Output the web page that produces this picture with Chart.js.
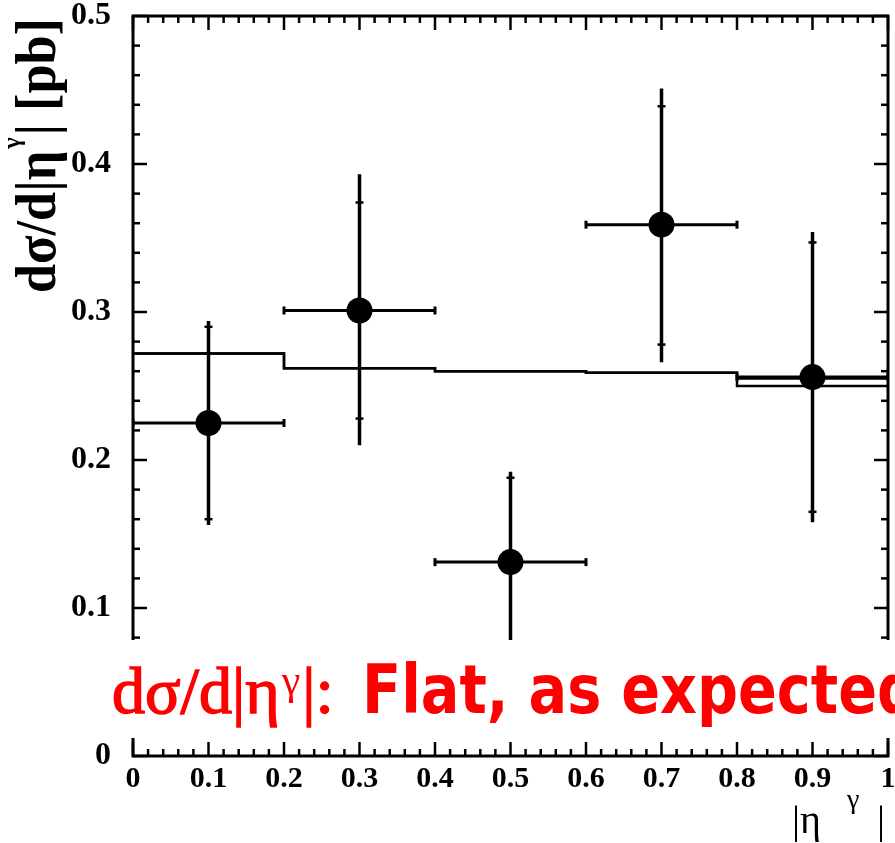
<!DOCTYPE html>
<html>
<head>
<meta charset="utf-8">
<script src="https://cdn.jsdelivr.net/npm/chart.js@4.4.0/dist/chart.umd.min.js"></script>
<style>
  html, body { margin: 0; padding: 0; background: #fff; }
  #wrap { width: 895px; height: 843px; }
</style>
</head>
<body>
<div id="wrap"><canvas id="myChart" width="895" height="843"></canvas></div>
<script>
// |eta^gamma| bins
const etaLow = [0.0, 0.2, 0.4, 0.6, 0.8];
const etaHigh = [0.2, 0.4, 0.6, 0.8, 1.0];
const etaCenter = [0.1, 0.3, 0.5, 0.7, 0.9];

// measured cross section [pb] with stat (inner caps) and total errors
const xsec = [0.225, 0.301, 0.131, 0.359, 0.256];
const statLow = [0.160, 0.228, 0.072, 0.278, 0.165];
const statHigh = [0.290, 0.374, 0.188, 0.439, 0.347];
const totLow = [0.156, 0.210, 0.066, 0.266, 0.158];
const totHigh = [0.294, 0.393, 0.192, 0.451, 0.354];

// theory histograms
const theoryA = [0.272, 0.262, 0.260, 0.259, 0.255];
const theoryB = [0.272, 0.262, 0.260, 0.259, 0.250];

const serif = '"Liberation Serif", "Times New Roman", serif';

// points at the bin edges; with stepped 'after' each value covers the bin ending at its point
function histPoints(vals) {
  let pts = [{x: etaLow[0], y: vals[0]}];
  for (let i = 0; i < vals.length; i++) pts.push({x: etaHigh[i], y: vals[i]});
  return pts;
}

function seg(ctx, x1, y1, x2, y2) {
  ctx.beginPath();
  ctx.moveTo(x1, y1);
  ctx.lineTo(x2, y2);
  ctx.stroke();
}

// error bars drawn under the markers
const errorBars = {
  id: 'errorBars',
  beforeDatasetsDraw(chart) {
    const ctx = chart.ctx;
    const xs = chart.scales.x, ys = chart.scales.y;
    const a = chart.chartArea;
    ctx.save();
    ctx.beginPath();
    ctx.rect(a.left, a.top, a.right - a.left, a.bottom - a.top);
    ctx.clip();
    ctx.strokeStyle = '#000';
    for (let i = 0; i < xsec.length; i++) {
      const px = xs.getPixelForValue(etaCenter[i]);
      const py = ys.getPixelForValue(xsec[i]);
      const x1 = xs.getPixelForValue(etaLow[i]);
      const x2 = xs.getPixelForValue(etaHigh[i]);
      ctx.lineWidth = 3.5;
      seg(ctx, px, ys.getPixelForValue(totLow[i]), px, ys.getPixelForValue(totHigh[i]));
      ctx.lineWidth = 3;
      seg(ctx, x1, py, x2, py);
      seg(ctx, x1, py - 4, x1, py + 4);
      seg(ctx, x2, py - 4, x2, py + 4);
      ctx.lineWidth = 2.5;
      const s1 = ys.getPixelForValue(statLow[i]);
      const s2 = ys.getPixelForValue(statHigh[i]);
      seg(ctx, px - 4, s1, px + 4, s1);
      seg(ctx, px - 4, s2, px + 4, s2);
    }
    ctx.restore();
  }
};

// frame with inward ticks, the overlay box and the titles
const decorations = {
  id: 'decorations',
  afterDraw(chart) {
    const ctx = chart.ctx;
    const a = chart.chartArea;
    const xs = chart.scales.x, ys = chart.scales.y;
    ctx.save();
    ctx.strokeStyle = '#000';
    ctx.lineWidth = 3;
    ctx.strokeRect(a.left, a.top, a.right - a.left, a.bottom - a.top);
    ctx.lineWidth = 2.5;
    for (let i = 0; i <= 50; i++) {
      const px = xs.getPixelForValue(i * 0.02);
      const len = i % 5 === 0 ? 14 : 7;
      seg(ctx, px, a.bottom, px, a.bottom - len);
      seg(ctx, px, a.top, px, a.top + len);
    }
    for (let i = 0; i <= 25; i++) {
      const py = ys.getPixelForValue(i * 0.02);
      const len = i % 5 === 0 ? 14 : 7;
      seg(ctx, a.left, py, a.left + len, py);
      seg(ctx, a.right, py, a.right - len, py);
    }

    // white overlay box with the red caption
    ctx.fillStyle = '#fff';
    ctx.fillRect(0, 640, chart.width, 98);

    ctx.fillStyle = '#ff0000';
    ctx.strokeStyle = '#ff0000';
    ctx.lineWidth = 1.5;
    ctx.textBaseline = 'alphabetic';
    ctx.textAlign = 'left';
    let x = 112;
    ctx.font = '66px ' + serif;
    ctx.fillText('dσ/d|η', x, 713);
    ctx.strokeText('dσ/d|η', x, 713);
    x += ctx.measureText('dσ/d|η').width + 2;
    ctx.font = '42px ' + serif;
    ctx.fillText('γ', x, 694);
    x += ctx.measureText('γ').width + 2;
    ctx.font = '66px ' + serif;
    ctx.fillText('|:', x, 713);
    ctx.strokeText('|:', x, 713);

    ctx.font = 'bold 68px "DejaVu Sans", sans-serif';
    const wFit = ctx.measureText('Flat, as expecte').width;
    ctx.save();
    ctx.translate(362, 713);
    ctx.scale(515 / wFit, 1);
    ctx.fillText('Flat, as expected', 0, 0);
    ctx.restore();

    // y axis title
    ctx.fillStyle = '#000';
    ctx.save();
    ctx.translate(55, 293);
    ctx.rotate(-Math.PI / 2);
    ctx.font = 'bold 56px ' + serif;
    const w1 = ctx.measureText('dσ/d|η').width;
    const w3 = ctx.measureText('| [pb]').width;
    ctx.font = 'bold 26px ' + serif;
    const w2 = ctx.measureText('γ').width + 4;
    ctx.scale(275 / (w1 + w2 + w3), 1);
    ctx.font = 'bold 56px ' + serif;
    ctx.fillText('dσ/d|η', 0, 0);
    ctx.font = 'bold 26px ' + serif;
    ctx.fillText('γ', w1 + 2, -35);
    ctx.font = 'bold 56px ' + serif;
    ctx.fillText('| [pb]', w1 + w2, 0);
    ctx.restore();

    // x axis title
    ctx.font = '40px ' + serif;
    ctx.fillText('|η', 792, 833);
    ctx.font = '28px ' + serif;
    ctx.fillText('γ', 847, 808);
    ctx.font = '40px ' + serif;
    ctx.fillText('|', 877, 833);
    ctx.restore();
  }
};

const ctx = document.getElementById('myChart').getContext('2d');
new Chart(ctx, {
  type: 'scatter',
  data: {
    datasets: [{
      type: 'line',
      label: 'theory A',
      data: histPoints(theoryA),
      stepped: 'after',
      borderColor: '#000',
      borderWidth: 2.5,
      pointRadius: 0,
      fill: false
    }, {
      type: 'line',
      label: 'theory B',
      data: histPoints(theoryB),
      stepped: 'after',
      borderColor: '#000',
      borderWidth: 2.5,
      pointRadius: 0,
      fill: false
    }, {
      label: 'data',
      data: etaCenter.map((e, i) => ({x: e, y: xsec[i]})),
      pointRadius: 13,
      pointBackgroundColor: '#000',
      pointBorderWidth: 0,
      showLine: false
    }]
  },
  options: {
    responsive: false,
    animation: false,
    layout: { autoPadding: false, padding: { top: 16, right: 7, left: 0, bottom: 0 } },
    plugins: {
      legend: { display: false },
      tooltip: { enabled: false }
    },
    scales: {
      x: {
        type: 'linear',
        min: 0,
        max: 1,
        grid: { display: false, drawTicks: false },
        border: { display: false },
        ticks: {
          stepSize: 0.1,
          autoSkip: false,
          maxRotation: 0,
          padding: 5,
          color: '#000',
          font: { family: serif, size: 30, weight: 'bold' },
          callback: (v) => String(Math.round(v * 10) / 10)
        },
        afterFit(scale) {
          scale.height = 87;
          scale.paddingLeft = 0;
          scale.paddingRight = 0;
        }
      },
      y: {
        min: 0,
        max: 0.5,
        grid: { display: false, drawTicks: false },
        border: { display: false },
        ticks: {
          stepSize: 0.1,
          padding: 22,
          color: '#000',
          font: { family: serif, size: 32, weight: 'bold' },
          callback: (v) => String(Math.round(v * 10) / 10)
        },
        afterFit(scale) {
          scale.width = 133;
          scale.paddingTop = 0;
          scale.paddingBottom = 0;
        }
      }
    }
  },
  plugins: [errorBars, decorations]
});
</script>
</body>
</html>
